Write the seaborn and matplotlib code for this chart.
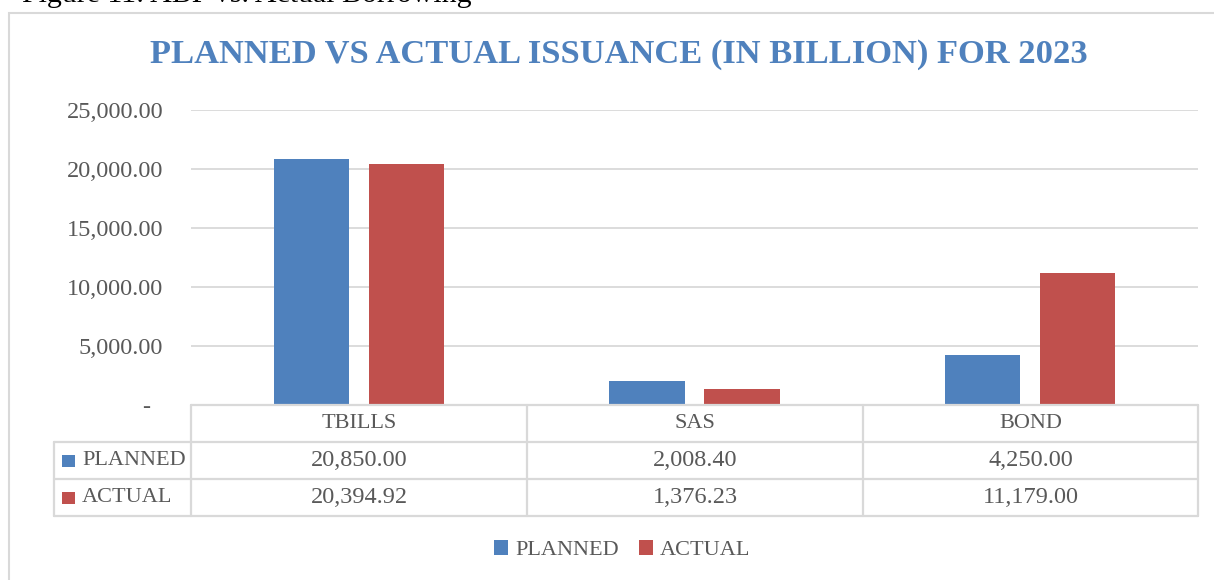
import matplotlib
matplotlib.use("Agg")
import matplotlib.pyplot as plt
from matplotlib.lines import Line2D
from matplotlib.patches import Rectangle, Patch
import seaborn as sns
import pandas as pd

# ---- data -------------------------------------------------------------
categories = ["TBILLS", "SAS", "BOND"]
series_names = ["PLANNED", "ACTUAL"]
planned = [20850.00, 2008.40, 4250.00]
actual = [20394.92, 1376.23, 11179.00]
y_ticks = [0, 5000, 10000, 15000, 20000, 25000]

title = "PLANNED VS ACTUAL ISSUANCE (IN BILLION) FOR 2023"
caption = "Figure 11: ABP vs. Actual Borrowing"

# ---- style ------------------------------------------------------------
BLUE = "#4F81BD"
RED = "#C0504D"
GRID = "#D9D9D9"
TEXT = "#595959"
FONT = ["Liberation Serif", "DejaVu Serif"]

sns.set_theme(style="white")
plt.rcParams["font.family"] = FONT

W, H = 1214, 580
fig = plt.figure(figsize=(W / 100, H / 100), dpi=100)
fig.patch.set_facecolor("white")


def fx(x):
    return x / W


def fy(y):
    return 1 - y / H


# outer frame of the chart object
fig.add_artist(Rectangle((fx(9), fy(640)), fx(1230), fy(13) - fy(640),
                         transform=fig.transFigure, fill=False,
                         edgecolor=GRID, linewidth=1.5))

# caption line above the frame
fig.text(fx(22), fy(1.5), caption, fontsize=21.5, color="black",
         ha="left", va="baseline")

# title
fig.text(fx(619), fy(55), title, fontsize=24.8, fontweight="bold",
         color=BLUE, ha="center", va="center")

# ---- bars -------------------------------------------------------------
df = pd.DataFrame({
    "category": categories * 2,
    "series": [series_names[0]] * 3 + [series_names[1]] * 3,
    "value": planned + actual,
})

ax = fig.add_axes([fx(191), fy(405), fx(1198) - fx(191), fy(110) - fy(405)])
sns.barplot(data=df, x="category", y="value", hue="series",
            palette=[BLUE, RED], saturation=1, width=0.566, gap=0.21,
            ax=ax, legend=False, edgecolor="none")
ax.set_xlim(-0.5, 2.5)
ax.set_ylim(0, 25000)
ax.set_yticks(y_ticks)
ax.set_yticklabels(["-  "] + [f"{v:,.2f}" for v in y_ticks[1:]])
ax.tick_params(axis="y", length=0, pad=20, labelsize=17.5, labelcolor=TEXT)
ax.set_xticks([])
ax.set_xlabel("")
ax.set_ylabel("")
for s in ax.spines.values():
    s.set_visible(False)
for v in y_ticks[1:]:
    ax.axhline(v, color=GRID, linewidth=1.3, zorder=0)

# ---- data table under the axis ----------------------------------------
col_x = [191, 527, 863, 1198]
row_y = [405, 442, 479, 516]
lw = 1.6


def hline(x0, x1, y):
    fig.add_artist(Line2D([fx(x0), fx(x1)], [fy(y), fy(y)],
                          transform=fig.transFigure, color=GRID, linewidth=lw))


def vline(x, y0, y1):
    fig.add_artist(Line2D([fx(x), fx(x)], [fy(y0), fy(y1)],
                          transform=fig.transFigure, color=GRID, linewidth=lw))


hline(191, 1198, row_y[0])
for y in row_y[1:]:
    hline(54, 1198, y)
vline(54, row_y[1], row_y[3])
for x in col_x:
    vline(x, row_y[0], row_y[3])

centers = [(col_x[i] + col_x[i + 1]) / 2 for i in range(3)]
for cx, cat in zip(centers, categories):
    fig.text(fx(cx), fy(423), cat, fontsize=16, color=TEXT,
             ha="center", va="center")

for row, (name, color, values) in enumerate(
        [(series_names[0], BLUE, planned), (series_names[1], RED, actual)]):
    yc = (row_y[row + 1] + row_y[row + 2]) / 2
    fig.add_artist(Rectangle((fx(62), fy(yc + 6)), fx(13), fy(yc - 6) - fy(yc + 6),
                             transform=fig.transFigure, facecolor=color,
                             edgecolor="none"))
    fig.text(fx(82), fy(yc), name, fontsize=16, color=TEXT,
             ha="left", va="center")
    for cx, v in zip(centers, values):
        fig.text(fx(cx), fy(yc), f"{v:,.2f}", fontsize=17.5, color=TEXT,
                 ha="center", va="center")

# ---- legend -----------------------------------------------------------
handles = [Patch(facecolor=BLUE, edgecolor="none", label=series_names[0]),
           Patch(facecolor=RED, edgecolor="none", label=series_names[1])]
fig.legend(handles=handles, loc="center", bbox_to_anchor=(fx(622), fy(550)),
           ncol=2, frameon=False, fontsize=16, labelcolor=TEXT,
           handlelength=0.65, handleheight=0.65, handletextpad=0.3,
           columnspacing=0.9)

fig.savefig("out.png", dpi=100, facecolor="white")
